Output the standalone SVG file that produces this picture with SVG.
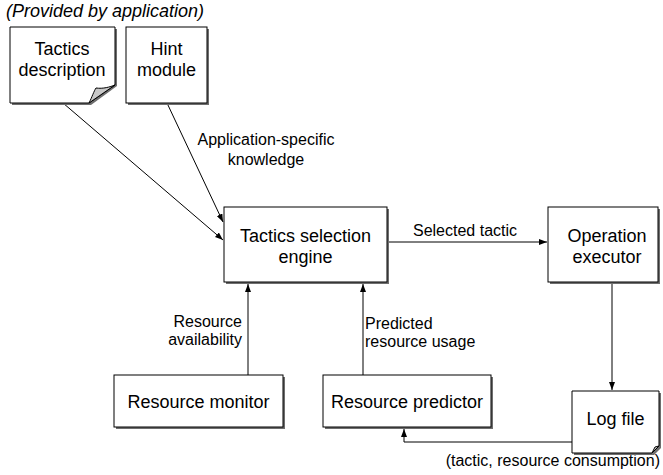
<svg xmlns="http://www.w3.org/2000/svg" width="663" height="475" viewBox="0 0 663 475">
<style>
text{font-family:"Liberation Sans",Arial,sans-serif;fill:#000}
.n{font-size:18px;text-anchor:middle}
.l{font-size:16px}
.box{fill:#fff;stroke:#000;stroke-width:1}
.sh{fill:#6e6e6e}
.c{fill:none;stroke:#000;stroke-width:1}
</style>
<defs>
<marker id="ah" viewBox="0 0 8 6" refX="8" refY="3" markerWidth="8" markerHeight="6" markerUnits="userSpaceOnUse" orient="auto">
<path d="M0,0 L8,3 L0,6 Z" fill="#000"/>
</marker>
</defs>
<rect width="663" height="475" fill="#fff"/>
<text x="6" y="17" style="font-size:18px;font-style:italic">(Provided by application)</text>

<g id="connectors">
<line class="c" x1="63" y1="103" x2="223" y2="240" marker-end="url(#ah)"/>
<line class="c" x1="167" y1="103" x2="223" y2="222" marker-end="url(#ah)"/>
<line class="c" x1="388" y1="242" x2="547" y2="242" marker-end="url(#ah)"/>
<line class="c" x1="248" y1="375" x2="248" y2="284" marker-end="url(#ah)"/>
<line class="c" x1="363" y1="375" x2="363" y2="284" marker-end="url(#ah)"/>
<line class="c" x1="612" y1="284" x2="612" y2="390" marker-end="url(#ah)"/>
<polyline class="c" points="572,442 404,442 404,429" marker-end="url(#ah)"/>
<text class="l" x="266" y="145" text-anchor="middle">Application-specific</text>
<text class="l" x="266" y="165" text-anchor="middle">knowledge</text>
<text class="l" x="465" y="236" text-anchor="middle">Selected tactic</text>
<text class="l" x="242" y="327" text-anchor="end">Resource</text>
<text class="l" x="242" y="345" text-anchor="end">availability</text>
<text class="l" x="365" y="329">Predicted</text>
<text class="l" x="365" y="347">resource usage</text>
<text class="l" x="660" y="466" text-anchor="end">(tactic, resource consumption)</text>
</g>

<g id="tactics-description">
<path class="sh" d="M12,29 H117 V86 L91,105 H12 Z"/>
<path class="box" d="M10,27 H115 V85 L89,103 H10 Z"/>
<path d="M89,103 C92,97 94,91 96,88 C103,89 110,87 115,85 Z" fill="#c8c8c8" stroke="#000" stroke-width="1"/>
<text class="n" x="62" y="55">Tactics</text>
<text class="n" x="62" y="76">description</text>
</g>

<g id="hint-module">
<rect class="sh" x="128" y="29" width="81" height="76"/>
<rect class="box" x="126" y="27" width="81" height="76"/>
<text class="n" x="166.5" y="55">Hint</text>
<text class="n" x="166.5" y="76">module</text>
</g>

<g id="tactics-selection-engine">
<rect class="sh" x="226" y="209" width="163" height="75"/>
<rect class="box" x="224" y="207" width="163" height="75"/>
<text class="n" x="305.5" y="242">Tactics selection</text>
<text class="n" x="305.5" y="263">engine</text>
</g>

<g id="operation-executor">
<rect class="sh" x="550" y="209" width="110" height="75"/>
<rect class="box" x="548" y="207" width="110" height="75"/>
<text class="n" x="607" y="242">Operation</text>
<text class="n" x="607" y="263">executor</text>
</g>

<g id="resource-monitor">
<rect class="sh" x="116" y="377" width="169" height="52"/>
<rect class="box" x="114" y="375" width="169" height="52"/>
<text class="n" x="198.5" y="408">Resource monitor</text>
</g>

<g id="resource-predictor">
<rect class="sh" x="325" y="377" width="168" height="52"/>
<rect class="box" x="323" y="375" width="168" height="52"/>
<text class="n" x="407" y="408">Resource predictor</text>
</g>

<g id="log-file">
<path class="sh" d="M574,393 H661 V448 L654,455 H574 Z"/>
<path class="box" d="M572,391 H659 V446 L652,453 H572 Z"/>
<path d="M652,453 C653,451 654,449 655,447 C656,447 658,446 659,446 Z" fill="#c8c8c8" stroke="#000" stroke-width="1"/>
<text class="n" x="615.5" y="425">Log file</text>
</g>
</svg>
